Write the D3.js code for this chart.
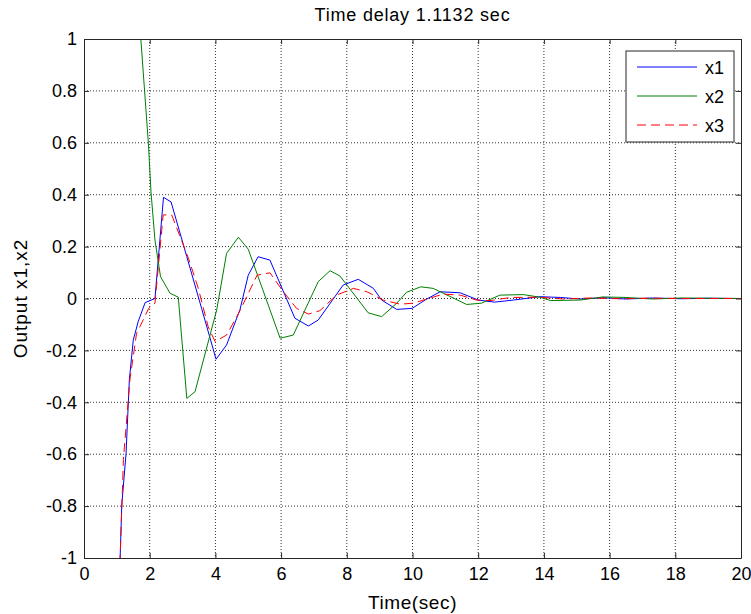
<!DOCTYPE html>
<html>
<head>
<meta charset="utf-8">
<script src="https://d3js.org/d3.v7.min.js"></script>
<style>
    body { margin: 0; background: #fff; }
    text { font-family: "Liberation Sans", Arial, sans-serif; }
</style>
</head>
<body>
<svg width="751" height="614"></svg>
<script>
"use strict";

// Series (time in sec, output value)
var x1Time  = [1.0, 1.10, 1.15, 1.28, 1.38, 1.50, 1.65, 1.86, 2.16, 2.42, 2.65, 3.13, 3.58, 4.02, 4.34, 4.75, 5.0, 5.30, 5.66, 6.42, 6.83, 7.13, 7.89, 8.35, 8.81, 9.06, 9.52, 9.99, 10.38, 10.84, 11.45, 12.0, 12.5, 13.07, 13.88, 14.5, 15.1, 15.8, 16.5, 17.3, 18.2, 19.0, 20.0];
var x1Value = [-1.4, -1.0, -0.796, -0.597, -0.314, -0.16, -0.089, -0.016, 0.0, 0.39, 0.372, 0.161, -0.038, -0.234, -0.179, -0.042, 0.09, 0.161, 0.148, -0.076, -0.106, -0.083, 0.052, 0.074, 0.039, -0.006, -0.042, -0.038, -0.006, 0.026, 0.022, -0.006, -0.014, -0.006, 0.007, 0.004, -0.002, 0.003, -0.002, 0.002, -0.001, 0.001, 0.0];

var x2Time  = [1.5, 1.73, 1.96, 2.04, 2.16, 2.33, 2.62, 2.87, 3.13, 3.38, 4.04, 4.34, 4.70, 5.0, 5.97, 6.37, 7.13, 7.49, 7.79, 8.65, 9.06, 9.52, 9.82, 10.25, 10.63, 11.65, 12.1, 12.66, 13.37, 13.88, 14.2, 15.1, 15.8, 16.5, 17.3, 18.2, 19.0, 20.0];
var x2Value = [1.4, 1.0, 0.598, 0.41, 0.225, 0.084, 0.02, 0.005, -0.385, -0.359, -0.044, 0.174, 0.236, 0.19, -0.153, -0.141, 0.065, 0.107, 0.087, -0.055, -0.07, -0.018, 0.024, 0.045, 0.039, -0.023, -0.018, 0.013, 0.015, 0.005, -0.008, -0.006, 0.006, 0.004, -0.002, 0.002, 0.001, 0.0];

var x3Time  = [1.0, 1.10, 1.20, 1.40, 1.60, 1.70, 1.97, 2.16, 2.41, 2.67, 3.18, 3.48, 3.78, 3.99, 4.34, 4.72, 5.27, 5.66, 6.07, 6.47, 6.83, 7.18, 7.69, 8.20, 8.61, 9.11, 9.62, 10.02, 10.94, 11.45, 11.95, 12.36, 13.0, 13.8, 14.6, 15.4, 16.3, 17.2, 18.2, 19.1, 20.0];
var x3Value = [-1.4, -1.0, -0.62, -0.31, -0.134, -0.109, -0.038, -0.018, 0.322, 0.322, 0.155, 0.039, -0.109, -0.166, -0.141, -0.054, 0.09, 0.099, 0.026, -0.038, -0.06, -0.047, 0.013, 0.039, 0.026, -0.006, -0.022, -0.018, 0.017, 0.013, -0.006, -0.008, 0.004, 0.005, -0.002, 0.002, -0.001, 0.001, 0.0, 0.0, 0.0];

var xTicks = [0, 2, 4, 6, 8, 10, 12, 14, 16, 18, 20];
var yTicks = [-1, -0.8, -0.6, -0.4, -0.2, 0, 0.2, 0.4, 0.6, 0.8, 1];

var seriesNames = ["x1", "x2", "x3"];
var seriesColors = ["#0000ff", "#008000", "#ff0000"];
var seriesDash = [null, null, "9,5"];

var plotLeft = 84, plotRight = 741, plotTop = 39, plotBottom = 558;

var svg = d3.select("svg");

var xScale = d3.scaleLinear().domain([0, 20]).range([plotLeft, plotRight]);
var yScale = d3.scaleLinear().domain([-1, 1]).range([plotBottom, plotTop]);

// Grid lines
var grid = svg.append("g").attr("class", "grid");
grid.selectAll("line.gx")
    .data(xTicks.slice(1, -1))
    .enter().append("line")
    .attr("class", "gx")
    .attr("x1", function(d) { return xScale(d); })
    .attr("x2", function(d) { return xScale(d); })
    .attr("y1", plotTop)
    .attr("y2", plotBottom)
    .attr("stroke", "#333")
    .attr("stroke-dasharray", "1,2");
grid.selectAll("line.gy")
    .data(yTicks.slice(1, -1))
    .enter().append("line")
    .attr("class", "gy")
    .attr("y1", function(d) { return yScale(d); })
    .attr("y2", function(d) { return yScale(d); })
    .attr("x1", plotLeft)
    .attr("x2", plotRight)
    .attr("stroke", "#333")
    .attr("stroke-dasharray", "1,2");

// Clip for the lines
svg.append("clipPath")
    .attr("id", "plotclip")
    .append("rect")
    .attr("x", plotLeft)
    .attr("y", plotTop)
    .attr("width", plotRight - plotLeft)
    .attr("height", plotBottom - plotTop);

var line = d3.line()
    .x(function(d) { return xScale(d[0]); })
    .y(function(d) { return yScale(d[1]); });

var series = [
    d3.zip(x1Time, x1Value),
    d3.zip(x2Time, x2Value),
    d3.zip(x3Time, x3Value)
];

svg.append("g")
    .attr("clip-path", "url(#plotclip)")
    .selectAll("path")
    .data(series)
    .enter().append("path")
    .attr("d", line)
    .attr("fill", "none")
    .attr("stroke", function(d, i) { return seriesColors[i]; })
    .attr("stroke-width", 1)
    .attr("stroke-dasharray", function(d, i) { return seriesDash[i]; });

// Axes (MATLAB style, inward ticks on every side)
var plainFormat = function(d) { return String(d); };
var axisBottom = d3.axisBottom(xScale).tickValues(xTicks).tickSizeInner(-5).tickSizeOuter(0).tickPadding(9).tickFormat(plainFormat);
var axisTop = d3.axisTop(xScale).tickValues(xTicks).tickSizeInner(-5).tickSizeOuter(0).tickFormat("");
var axisLeft = d3.axisLeft(yScale).tickValues(yTicks).tickSizeInner(-5).tickSizeOuter(0).tickPadding(7).tickFormat(plainFormat);
var axisRight = d3.axisRight(yScale).tickValues(yTicks).tickSizeInner(-5).tickSizeOuter(0).tickFormat("");

function styleAxis(g) {
    g.selectAll("path, line").attr("stroke", "#262626");
    g.selectAll("text")
        .attr("fill", "#000")
        .style("font-size", "18px")
        .style("font-family", "'Liberation Sans', Arial, sans-serif");
}

svg.append("g").attr("transform", "translate(0," + plotBottom + ")").call(axisBottom).call(styleAxis);
svg.append("g").attr("transform", "translate(0," + plotTop + ")").call(axisTop).call(styleAxis);
svg.append("g").attr("transform", "translate(" + plotLeft + ",0)").call(axisLeft).call(styleAxis);
svg.append("g").attr("transform", "translate(" + plotRight + ",0)").call(axisRight).call(styleAxis);

// Title and axis labels
svg.append("text")
    .attr("x", (plotLeft + plotRight) / 2)
    .attr("y", 21)
    .style("text-anchor", "middle")
    .style("font-size", "18px")
    .style("letter-spacing", "0.8px")
    .text("Time delay 1.1132 sec");

svg.append("text")
    .attr("x", (plotLeft + plotRight) / 2)
    .attr("y", 609)
    .style("text-anchor", "middle")
    .style("font-size", "19px")
    .style("letter-spacing", "0.6px")
    .text("Time(sec)");

svg.append("text")
    .attr("transform", "translate(27," + ((plotTop + plotBottom) / 2) + ") rotate(-90)")
    .style("text-anchor", "middle")
    .style("font-size", "19px")
    .style("letter-spacing", "1px")
    .text("Output x1,x2");

// Legend
var legend = svg.append("g").attr("class", "legend");
legend.append("rect")
    .attr("x", 626)
    .attr("y", 51)
    .attr("width", 108)
    .attr("height", 91)
    .attr("fill", "#fff")
    .attr("stroke", "#262626");

var rows = legend.selectAll("g.row")
    .data(seriesNames)
    .enter().append("g")
    .attr("class", "row")
    .attr("transform", function(d, i) { return "translate(0," + (67 + i * 29) + ")"; });

rows.append("line")
    .attr("x1", 637)
    .attr("x2", 697)
    .attr("stroke", function(d, i) { return seriesColors[i]; })
    .attr("stroke-dasharray", function(d, i) { return seriesDash[i]; });

rows.append("text")
    .attr("x", 705)
    .attr("y", 7)
    .style("font-size", "18px")
    .text(function(d) { return d; });
</script>
</body>
</html>
